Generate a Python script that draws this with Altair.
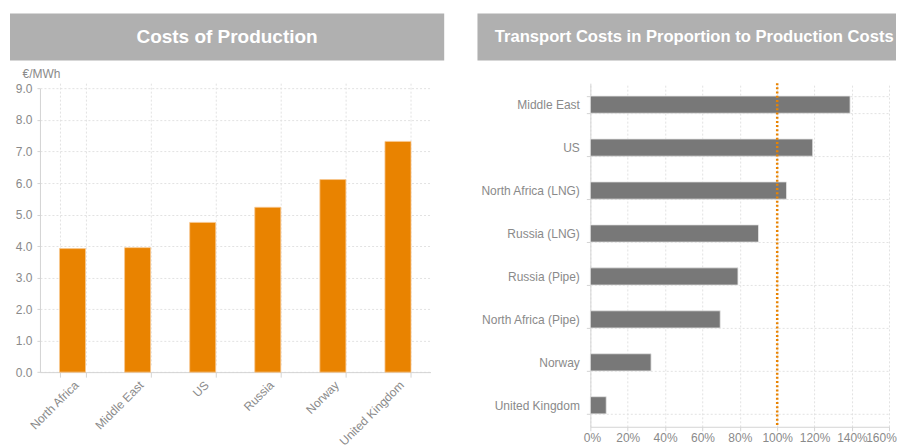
import altair as alt
import pandas as pd

# ---- data ----
prod_countries = ["North Africa", "Middle East", "US", "Russia", "Norway", "United Kingdom"]
prod_costs = [3.92, 3.95, 4.75, 5.23, 6.11, 7.32]

trans_routes = ["Middle East", "US", "North Africa (LNG)", "Russia (LNG)",
                "Russia (Pipe)", "North Africa (Pipe)", "Norway", "United Kingdom"]
trans_ratio = [139, 119, 105, 90, 79, 69.5, 32.5, 8.5]

reference_line = [100]
pct_ticks = [0, 20, 40, 60, 80, 100, 120, 140, 160]
cost_ticks = [0, 1, 2, 3, 4, 5, 6, 7, 8, 9]

left_title = "Costs of Production"
right_title = "Transport Costs in Proportion to Production Costs"
unit_label = "€/MWh"

FONT = "Liberation Sans"
LABEL = "#8a8a8a"
ORANGE = "#E98300"
GRAYBAR = "#787878"
TITLEBG = "#B0B0B0"

df_prod = pd.DataFrame({"country": prod_countries, "cost": prod_costs})
df_trans = pd.DataFrame({"route": trans_routes, "ratio": trans_ratio})
df_ref = pd.DataFrame({"v": reference_line})
one = alt.Data(values=[{}])

# ---- left panel ----
LW = 391
LH = 289.3          # plot group height (shared top with right panel)
LTOP = 5.3          # y scale starts 5.3px below the group top
left_bars = alt.Chart(df_prod).mark_bar(
    color=ORANGE, stroke="#f7c890", strokeWidth=0.8
).encode(
    x=alt.X("country:N", sort=prod_countries,
            scale=alt.Scale(paddingInner=0.6, paddingOuter=0.3),
            axis=alt.Axis(title=None, labelAngle=-45, tickBand="extent", grid=True,
                          tickSize=5, labelPadding=2)),
    y=alt.Y("cost:Q", scale=alt.Scale(domain=[0, 9], nice=False, range=[LH, LTOP]),
            axis=alt.Axis(values=cost_ticks, format=".1f",
                          title=unit_label, titleAngle=0, titleAlign="left",
                          titleBaseline="alphabetic", titleX=-18, titleY=-6,
                          titleFont=FONT, titleFontSize=12, titleFontWeight="normal",
                          titleColor=LABEL, tickSize=3, labelPadding=5)),
)
left_bg = alt.Chart(one).mark_rect(color=TITLEBG).encode(
    x=alt.value(-30), x2=alt.value(404.7), y=alt.value(-69.7), y2=alt.value(-22.7))
left_txt = alt.Chart(one).mark_text(
    font=FONT, fontSize=19, fontWeight="bold", color="white", align="center", baseline="middle"
).encode(x=alt.value(187.3), y=alt.value(-46.2), text=alt.value(left_title))
left = alt.layer(left_bg, left_txt, left_bars).properties(width=LW, height=LH)

# ---- right panel ----
RW, RH = 299.3, 344
pct_scale = alt.Scale(domain=[0, 160], nice=False)
pct_axis = alt.Axis(title=None, values=pct_ticks, labelOverlap=False, tickCount=9,
                    labelExpr="datum.value + '%'", tickSize=4, labelPadding=2,
                    labelFlush=True, labelFlushOffset=7, grid=True)
right_bars = alt.Chart(df_trans).mark_bar(
    color=GRAYBAR, stroke="#e6e6e6", strokeWidth=0.8
).encode(
    y=alt.Y("route:N", sort=trans_routes,
            scale=alt.Scale(paddingInner=0.6, paddingOuter=0.3),
            axis=alt.Axis(title=None, tickBand="extent", grid=True, tickSize=4,
                          labelPadding=7)),
    x=alt.X("ratio:Q", scale=pct_scale, axis=pct_axis),
)
right_rule = alt.Chart(df_ref).mark_rule(
    color=ORANGE, strokeWidth=2.5, strokeDash=[2, 2.2]
).encode(x=alt.X("v:Q", scale=pct_scale, axis=pct_axis))
right_bg = alt.Chart(one).mark_rect(color=TITLEBG).encode(
    x=alt.value(-113), x2=alt.value(306), y=alt.value(-69.7), y2=alt.value(-22.7))
right_txt = alt.Chart(one).mark_text(
    font=FONT, fontSize=16.6, fontWeight="bold", color="white", align="center", baseline="middle"
).encode(x=alt.value(104), y=alt.value(-46.2), text=alt.value(right_title))
right = alt.layer(right_bg, right_txt, right_bars, right_rule).properties(width=RW, height=RH)

chart = alt.hconcat(left, right, spacing=33).properties(
    padding={"left": 2, "top": 5, "right": 0, "bottom": 0},
    background="white",
).configure_view(stroke=None).configure_axis(
    labelFont=FONT, labelFontSize=12, labelColor=LABEL,
    domainColor="#d4d4d4", tickColor="#d4d4d4",
    gridColor="#e2e2e2", gridDash=[2, 2], gridWidth=1,
)

chart.save("out.html", embed_options={"renderer": "svg", "actions": False})
